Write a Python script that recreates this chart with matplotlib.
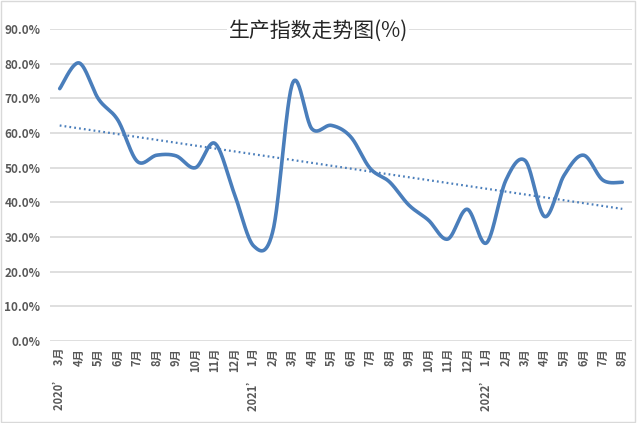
import numpy as np
import matplotlib
matplotlib.use("Agg")
import matplotlib.pyplot as plt
from matplotlib.patches import Rectangle

plt.rcParams['font.family'] = ['Noto Sans CJK SC', 'DejaVu Sans']

# months from 2020-3 to 2022-8
months = [3, 4, 5, 6, 7, 8, 9, 10, 11, 12,
          1, 2, 3, 4, 5, 6, 7, 8, 9, 10, 11, 12,
          1, 2, 3, 4, 5, 6, 7, 8]
year_marks = {0: "2020’", 10: "2021’", 22: "2022’"}
values = [72.8, 80.2, 69.8, 63.7, 51.8, 53.6, 53.4, 50.0, 57.0, 42.5,
          27.4, 32.0, 74.3, 61.2, 62.2, 58.9, 49.8, 45.9, 39.2, 34.9,
          29.4, 38.0, 28.3, 46.4, 52.0, 35.9, 47.8, 53.6, 46.4, 45.8]

labels = []
for i, m in enumerate(months):
    if i in year_marks:
        labels.append(year_marks[i] + "   " + str(m) + "月")
    else:
        labels.append(str(m) + "月")

x = np.arange(len(values))
y = np.array(values) / 100.0


# smoothed line like excel (catmull-rom bezier)
def smooth(xs, ys, n=30):
    px = np.concatenate([[xs[0]], xs, [xs[-1]]])
    py = np.concatenate([[ys[0]], ys, [ys[-1]]])
    outx, outy = [], []
    t = np.linspace(0, 1, n)
    for i in range(1, len(px) - 2):
        p0 = np.array([px[i], py[i]])
        p3 = np.array([px[i + 1], py[i + 1]])
        c1 = p0 + (np.array([px[i + 1], py[i + 1]]) - np.array([px[i - 1], py[i - 1]])) / 6
        c2 = p3 - (np.array([px[i + 2], py[i + 2]]) - np.array([px[i], py[i]])) / 6
        for tt in t:
            b = ((1 - tt) ** 3) * p0 + 3 * ((1 - tt) ** 2) * tt * c1 + 3 * (1 - tt) * tt ** 2 * c2 + tt ** 3 * p3
            outx.append(b[0])
            outy.append(b[1])
    return np.array(outx), np.array(outy)


fig = plt.figure(figsize=(6.4, 4.23), dpi=100)
ax = fig.add_axes([50 / 640, 1 - 341 / 423, 582 / 640, 312 / 423])

sx, sy = smooth(x, y)
ax.plot(sx, sy, color='#4A7EBB', lw=2.6, solid_capstyle='round', zorder=3)

# linear trendline
slope, intercept = np.polyfit(x, y, 1)
ax.plot(x, intercept + slope * x, color='#4A7EBB', lw=1.6, linestyle=(0, (0.8, 1.4)), zorder=2)

ax.set_xlim(-0.5, len(values) - 0.5)
ax.set_ylim(0, 0.9)
ax.set_yticks(np.arange(0, 0.91, 0.1))
ax.set_yticklabels([f"{v * 100:.1f}%" for v in np.arange(0, 0.91, 0.1)],
                   fontsize=8.5, fontweight='bold', color='#595959')
ax.set_xticks(x)
ax.set_xticklabels(labels, rotation=90, fontsize=8, fontweight='bold', color='#595959')
ax.tick_params(length=0, pad=7)
ax.tick_params(axis='x', pad=5)
ax.grid(axis='y', color='#D9D9D9', lw=1.2)
ax.set_axisbelow(True)
for s in ax.spines.values():
    s.set_visible(False)

fig.text(0.497, 1 - 31 / 423, "生产指数走势图(%)", ha='center', va='center',
         fontsize=15, color='#262626',
         bbox=dict(facecolor='white', edgecolor='none', pad=1))

fig.patches.append(Rectangle((1 / 640, 1 / 423), 634 / 640, 421 / 423, transform=fig.transFigure,
                             fill=False, edgecolor='#D9D9D9', lw=1))

fig.savefig("out.png", dpi=100)
